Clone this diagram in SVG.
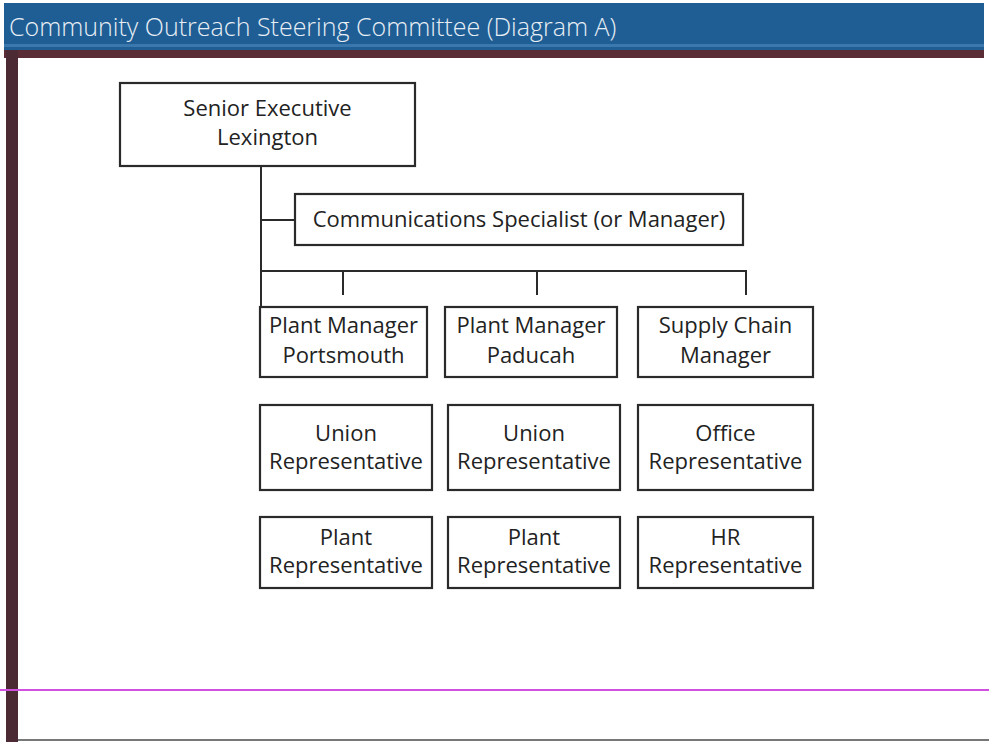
<svg xmlns="http://www.w3.org/2000/svg" width="989" height="742" viewBox="0 0 989 742">
<style>
.box{fill:#fff;stroke:#2a2a2a;stroke-width:2.2}
.t{font-family:"Open Sans","Noto Sans",sans-serif;font-size:22px;fill:#222;text-anchor:middle}
.c{stroke:#2a2a2a;stroke-width:2;fill:none}
</style>
<rect x="0" y="0" width="989" height="742" fill="#fff"/>
<rect x="4" y="3" width="980" height="48" fill="#1f5e94"/>
<rect x="4" y="44" width="980" height="3" fill="#3a78ae"/>
<rect x="4" y="50" width="980" height="8" fill="#5a2c36"/>
<rect x="6" y="50" width="12" height="692" fill="#4b2a33"/>
<text x="9" y="36" font-family="'Open Sans','Noto Sans',sans-serif" font-size="25" font-weight="300" fill="#e8eef5">Community Outreach Steering Committee (Diagram A)</text>
<line x1="0" y1="690" x2="989" y2="690" stroke="#d050e0" stroke-width="2"/>
<line x1="18" y1="740" x2="989" y2="740" stroke="#777" stroke-width="2"/>
<g id="connectors">
<path class="c" d="M261 166 V306 M261 220 H295 M261 271 H747 M343 271 V295 M537 271 V295 M746 271 V295"/>
</g>
<g id="senior"><rect class="box" x="120" y="83" width="295" height="83"/><text class="t" x="267.5" y="116">Senior Executive</text><text class="t" x="267.5" y="145">Lexington</text></g>
<g id="comm"><rect class="box" x="295" y="194" width="448" height="51"/><text class="t" x="519" y="227">Communications Specialist (or Manager)</text></g>
<g id="pm-portsmouth"><rect class="box" x="260" y="307" width="167" height="70"/><text class="t" x="343.5" y="333">Plant Manager</text><text class="t" x="343.5" y="363">Portsmouth</text></g>
<g id="pm-paducah"><rect class="box" x="445" y="307" width="172" height="70"/><text class="t" x="531" y="333">Plant Manager</text><text class="t" x="531" y="363">Paducah</text></g>
<g id="supply"><rect class="box" x="638" y="307" width="175" height="70"/><text class="t" x="725.5" y="333">Supply Chain</text><text class="t" x="725.5" y="363">Manager</text></g>
<g id="union1"><rect class="box" x="260" y="405" width="172" height="85"/><text class="t" x="346" y="441">Union</text><text class="t" x="346" y="469">Representative</text></g>
<g id="union2"><rect class="box" x="448" y="405" width="172" height="85"/><text class="t" x="534" y="441">Union</text><text class="t" x="534" y="469">Representative</text></g>
<g id="office"><rect class="box" x="638" y="405" width="175" height="85"/><text class="t" x="725.5" y="441">Office</text><text class="t" x="725.5" y="469">Representative</text></g>
<g id="plant1"><rect class="box" x="260" y="517" width="172" height="71"/><text class="t" x="346" y="545">Plant</text><text class="t" x="346" y="573">Representative</text></g>
<g id="plant2"><rect class="box" x="448" y="517" width="172" height="71"/><text class="t" x="534" y="545">Plant</text><text class="t" x="534" y="573">Representative</text></g>
<g id="hr"><rect class="box" x="638" y="517" width="175" height="71"/><text class="t" x="725.5" y="545">HR</text><text class="t" x="725.5" y="573">Representative</text></g>
</svg>
